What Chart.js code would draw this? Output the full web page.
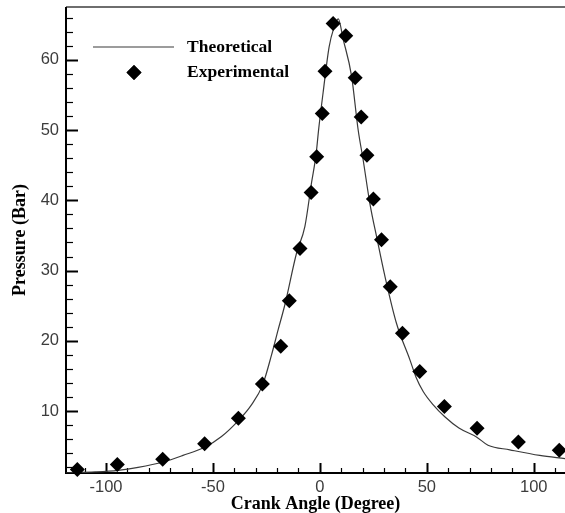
<!DOCTYPE html>
<html>
<head>
<meta charset="utf-8">
<script src="https://cdn.jsdelivr.net/npm/chart.js@4/dist/chart.umd.min.js"></script>
<style>
  html, body { margin: 0; padding: 0; background: #fff; }
  canvas { display: block; }
</style>
</head>
<body>
<canvas id="chart" width="565" height="513"></canvas>
<script>
// Theoretical pressure trace (crank angle in degrees, pressure in bar)
const crankAngleTheory = [-118.7, -105, -94.4, -85, -73.2, -64, -53.7, -46, -38, -32, -26.8, -22.6, -19.5, -16.4, -10.9, -7, -3.9, -1.8, -0.5, 1.5, 4.3, 6.5, 8.6, 10.9, 14.8, 17.9, 20.2, 23.4, 26.8, 30.4, 35.8, 42.1, 45, 48.3, 53, 58.4, 65, 73.2, 78.6, 88.8, 102.8, 114.6];
const pressureTheory = [1.2, 1.35, 1.58, 2.0, 2.77, 3.7, 4.9, 6.4, 8.7, 10.9, 13.7, 18.0, 21.6, 25.1, 32.5, 36.3, 42.5, 46.5, 50.3, 55.3, 61.8, 64.5, 65.8, 62.9, 57.7, 50.0, 45.8, 39.5, 34.4, 29.2, 22.5, 17.3, 14.8, 12.8, 10.9, 9.2, 7.6, 6.33, 5.15, 4.5, 3.7, 3.25];

// Measured pressure points
const crankAngleExp = [-113.4, -94.7, -73.5, -53.9, -38.1, -26.9, -18.3, -14.3, -9.3, -4.1, -1.5, 1.1, 2.4, 6.2, 12.1, 16.5, 19.3, 22.0, 25.0, 28.8, 32.9, 38.6, 46.7, 58.2, 73.5, 92.8, 111.9];
const pressureExp = [1.7, 2.4, 3.15, 5.35, 9.0, 13.85, 19.25, 25.7, 33.15, 41.1, 46.2, 52.35, 58.35, 65.15, 63.4, 57.45, 51.85, 46.4, 40.2, 34.4, 27.7, 21.1, 15.65, 10.65, 7.55, 5.6, 4.45];

// Axis ticks
const xTickValues = [-100, -50, 0, 50, 100];
const yTickValues = [10, 20, 30, 40, 50, 60];
const xMinorStep = 10;
const yMinorStep = 2;

const seriesLabels = ['Theoretical', 'Experimental'];

const toPoints = (xs, ys) => xs.map((x, i) => ({ x: x, y: ys[i] }));

const tickFont = { family: "'Liberation Sans', Arial, sans-serif", size: 16.5 };
const titleFont = { family: "'Liberation Serif', 'Times New Roman', serif", size: 18, weight: 'bold', lineHeight: 1 };

// Axis lines, frame and inward tick marks
const framePlugin = {
  id: 'frame',
  beforeDatasetsDraw(chart) {
    const { ctx, chartArea: a, scales: { x, y } } = chart;
    ctx.save();
    // top frame line
    ctx.strokeStyle = '#6e6e6e';
    ctx.lineWidth = 2;
    ctx.beginPath();
    ctx.moveTo(a.left, a.top);
    ctx.lineTo(a.right, a.top);
    ctx.stroke();
    // y ticks
    ctx.strokeStyle = '#000';
    for (let v = Math.ceil(y.min / yMinorStep) * yMinorStep; v <= y.max; v += yMinorStep) {
      const major = yTickValues.includes(v);
      const py = Math.round(y.getPixelForValue(v)) + 0.5;
      ctx.lineWidth = major ? 2 : 1.2;
      ctx.beginPath();
      ctx.moveTo(a.left, py);
      ctx.lineTo(a.left + (major ? 12 : 7), py);
      ctx.stroke();
    }
    // x ticks
    for (let v = Math.ceil(x.min / xMinorStep) * xMinorStep; v <= x.max; v += xMinorStep) {
      const major = xTickValues.includes(v);
      const px = Math.round(x.getPixelForValue(v)) + 0.5;
      ctx.lineWidth = major ? 2 : 1.2;
      ctx.beginPath();
      ctx.moveTo(px, a.bottom);
      ctx.lineTo(px, a.bottom - (major ? 10 : 5));
      ctx.stroke();
    }
    // axis lines
    ctx.lineWidth = 2;
    ctx.beginPath();
    ctx.moveTo(a.left, a.top);
    ctx.lineTo(a.left, a.bottom);
    ctx.lineTo(a.right, a.bottom);
    ctx.stroke();
    ctx.restore();
  }
};

// Legend in the upper-left of the plot
const insetLegendPlugin = {
  id: 'insetLegend',
  afterDraw(chart) {
    const { ctx, chartArea: a } = chart;
    const line = chart.data.datasets[0];
    const pts = chart.data.datasets[1];
    ctx.save();
    ctx.font = `bold 17.5px ${titleFont.family}`;
    ctx.fillStyle = '#000';
    ctx.textBaseline = 'middle';
    ctx.textAlign = 'left';
    const row1 = a.top + 40;
    const row2 = a.top + 65.5;
    ctx.strokeStyle = line.borderColor;
    ctx.lineWidth = line.borderWidth;
    ctx.beginPath();
    ctx.moveTo(a.left + 27, row1);
    ctx.lineTo(a.left + 108, row1);
    ctx.stroke();
    ctx.fillText(line.label, a.left + 121, row1);
    Chart.helpers.drawPoint(ctx, {
      pointStyle: pts.pointStyle, radius: pts.pointRadius, borderWidth: 0, rotation: 0
    }, a.left + 68, row2);
    ctx.fillStyle = pts.backgroundColor;
    ctx.fill();
    ctx.fillStyle = '#000';
    ctx.fillText(pts.label, a.left + 121, row2);
    ctx.restore();
  }
};

new Chart(document.getElementById('chart'), {
  type: 'scatter',
  data: {
    datasets: [
      {
        label: seriesLabels[0],
        data: toPoints(crankAngleTheory, pressureTheory),
        showLine: true,
        borderColor: '#3a3a3a',
        borderWidth: 1.2,
        pointRadius: 0,
        cubicInterpolationMode: 'monotone',
        order: 2
      },
      {
        label: seriesLabels[1],
        data: toPoints(crankAngleExp, pressureExp),
        showLine: false,
        pointStyle: 'rectRot',
        pointRadius: 7.5,
        backgroundColor: '#000',
        borderColor: '#000',
        borderWidth: 0,
        clip: false,
        order: 1
      }
    ]
  },
  options: {
    responsive: false,
    animation: false,
    events: [],
    layout: { autoPadding: false, padding: { top: 7, right: 0, left: 0, bottom: 0 } },
    plugins: { legend: { display: false }, tooltip: { enabled: false } },
    scales: {
      x: {
        type: 'linear',
        min: -118.7,
        max: 114.6,
        afterBuildTicks: s => { s.ticks = xTickValues.map(v => ({ value: v })); },
        afterFit: s => { s.height = 40; s.paddingLeft = 0; s.paddingRight = 0; },
        grid: { display: false, drawTicks: false },
        border: { display: false },
        ticks: { font: tickFont, color: '#3c3c3c', padding: 5 },
        title: { display: true, text: 'Crank Angle (Degree)', font: titleFont, color: '#000', padding: { top: 0, bottom: 0 } }
      },
      y: {
        type: 'linear',
        min: 1.2,
        max: 67.5,
        afterBuildTicks: s => { s.ticks = yTickValues.map(v => ({ value: v })); },
        afterFit: s => { s.width = 66; s.paddingTop = 0; s.paddingBottom = 0; },
        grid: { display: false, drawTicks: false },
        border: { display: false },
        ticks: { font: tickFont, color: '#3c3c3c', padding: 7 },
        title: { display: true, text: 'Pressure (Bar)', font: titleFont, color: '#000', padding: { top: 11, bottom: 0 } }
      }
    }
  },
  plugins: [framePlugin, insetLegendPlugin]
});
</script>
</body>
</html>
